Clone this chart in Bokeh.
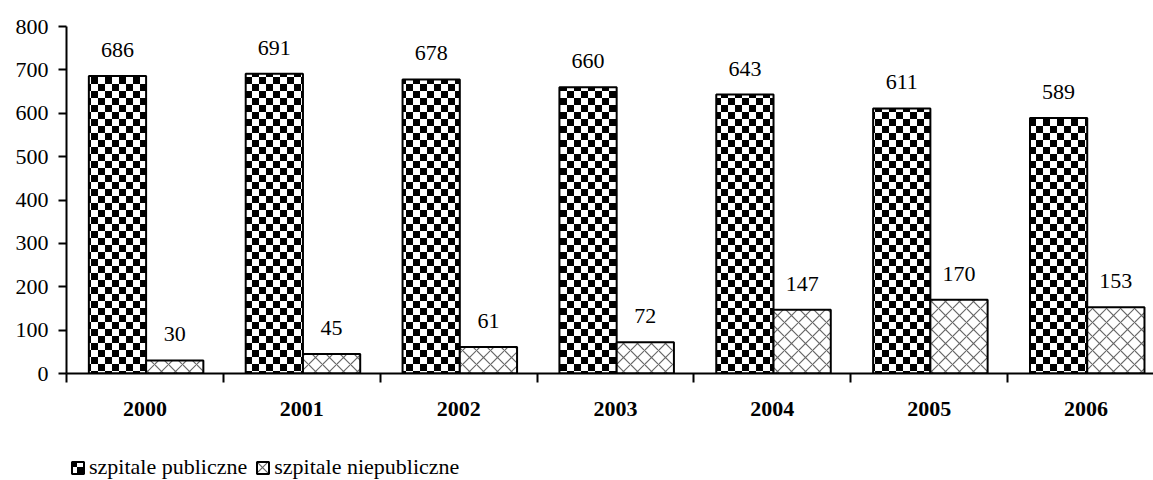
from bokeh.plotting import figure
from bokeh.layouts import column
from bokeh.models import (ColumnDataSource, Range1d, LinearAxis, FixedTicker,
                          Legend, LegendItem, CanvasTexture)
from bokeh.core.properties import value
from bokeh.embed import file_html
from bokeh.resources import INLINE

years = ["2000", "2001", "2002", "2003", "2004", "2005", "2006"]
publiczne = [686, 691, 678, 660, 643, 611, 589]
niepubliczne = [30, 45, 61, 72, 147, 170, 153]
y_ticks = [0, 100, 200, 300, 400, 500, 600, 700, 800]
series_names = ["szpitale publiczne", "szpitale niepubliczne"]

FONT = "Liberation Serif"
FS = "22px"

idx = list(range(len(years)))
pub_x = [i + 0.325 for i in idx]
npub_x = [i + 0.69 for i in idx]
centers = [i + 0.5 for i in idx]

src_pub = ColumnDataSource(dict(x=pub_x, top=publiczne, lab=[str(v) for v in publiczne]))
src_npub = ColumnDataSource(dict(x=npub_x, top=niepubliczne, lab=[str(v) for v in niepubliczne]))

checker = CanvasTexture(code="""
const c = ctx.canvas;
c.width = 14;
c.height = 14;
ctx.fillStyle = "#ffffff";
ctx.fillRect(0, 0, 14, 14);
ctx.fillStyle = "#000000";
ctx.fillRect(0, 0, 7, 7);
ctx.fillRect(7, 7, 7, 7);
""", repetition="repeat")

pub_style = dict(fill_color="white", line_color="black", line_width=2,
                 hatch_pattern=value("checker"), hatch_extra={"checker": checker},
                 hatch_color="black", hatch_scale=14)
npub_style = dict(fill_color="white", line_color="black", line_width=2,
                  hatch_pattern=value("diagonal_cross"), hatch_color="#666666",
                  hatch_scale=14, hatch_weight=1.2)

W = 1153
p = figure(width=W, height=425, output_backend="svg", toolbar_location=None,
           x_range=Range1d(0, 6.93), y_range=Range1d(0, 800),
           x_axis_type=None, y_axis_type=None,
           min_border_left=66, min_border_right=0, min_border_top=26,
           min_border_bottom=52)
p.outline_line_color = None
p.xgrid.visible = False
p.ygrid.visible = False

r_pub = p.vbar(x="x", top="top", width=0.365, bottom=0, source=src_pub, **pub_style)
r_npub = p.vbar(x="x", top="top", width=0.365, bottom=0, source=src_npub, **npub_style)

for src in (src_pub, src_npub):
    p.text(x="x", y="top", text="lab", source=src, text_align="center",
           text_baseline="alphabetic", y_offset=-26,
           text_font=value(FONT), text_font_size=FS, text_color="black")

yaxis = LinearAxis(ticker=FixedTicker(ticks=y_ticks))
yaxis.axis_line_width = 2
yaxis.major_tick_line_width = 2
yaxis.major_tick_out = 8
yaxis.major_tick_in = 0
yaxis.minor_tick_out = 0
yaxis.minor_tick_in = 0
yaxis.major_label_standoff = 10
yaxis.major_label_text_font = FONT
yaxis.major_label_text_font_size = FS
yaxis.major_label_text_color = "black"
p.add_layout(yaxis, "left")

xaxis = LinearAxis(ticker=FixedTicker(ticks=centers, minor_ticks=list(range(len(years) + 1))))
xaxis.major_label_overrides = {c: y for c, y in zip(centers, years)}
xaxis.axis_line_width = 2
xaxis.major_tick_out = 0
xaxis.major_tick_in = 0
xaxis.minor_tick_line_width = 2
xaxis.minor_tick_out = 9
xaxis.minor_tick_in = 0
xaxis.major_label_standoff = 19
xaxis.major_label_text_font = FONT
xaxis.major_label_text_font_size = FS
xaxis.major_label_text_font_style = "bold"
xaxis.major_label_text_color = "black"
p.add_layout(xaxis, "below")

# legend strip: renderers placed far outside the visible range (both axes), used only for legend glyphs
lg = figure(width=W, height=480 - 425, output_backend="svg", toolbar_location=None,
            x_range=Range1d(0, 6.93), y_range=Range1d(0, 1),
            x_axis_type=None, y_axis_type=None,
            min_border_left=66, min_border_right=0, min_border_top=0,
            min_border_bottom=0)
lg.outline_line_color = None
lg.xgrid.visible = False
lg.ygrid.visible = False
hidden_pub = ColumnDataSource(dict(x=[60], top=[-5]))
hidden_npub = ColumnDataSource(dict(x=[60], top=[-5]))
l_pub = lg.vbar(x="x", top="top", width=0.365, bottom=-6, source=hidden_pub, **pub_style)
l_npub = lg.vbar(x="x", top="top", width=0.365, bottom=-6, source=hidden_npub, **npub_style)

legend = Legend(items=[LegendItem(label=series_names[0], renderers=[l_pub]),
                       LegendItem(label=series_names[1], renderers=[l_npub])],
                orientation="horizontal", location=(4, 0),
                label_text_font=FONT, label_text_font_size=FS,
                label_text_color="black", glyph_width=15, glyph_height=15,
                spacing=8, padding=2, margin=0, label_standoff=4,
                border_line_color=None, background_fill_alpha=0)
lg.add_layout(legend, "center")

layout = column(p, lg, spacing=0)
open("out.html", "w").write(file_html(layout, INLINE))
